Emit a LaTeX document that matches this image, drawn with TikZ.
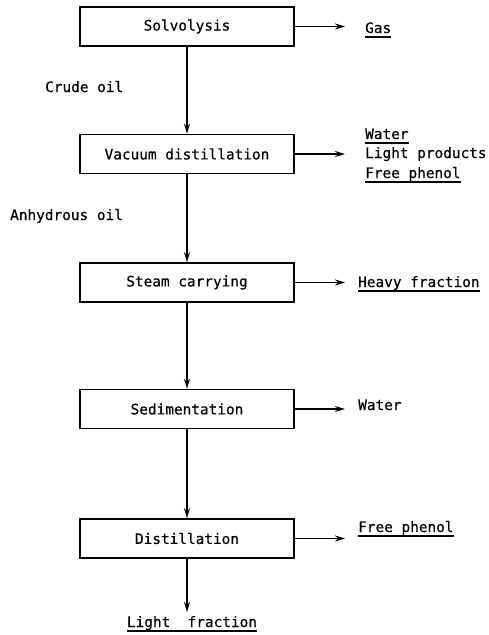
\documentclass[tikz,border=0pt]{standalone}
\usepackage{fontspec}
\setmainfont{DejaVu Sans Mono}[FakeBold=0.4]
\usetikzlibrary{arrows.meta}
\begin{document}
\begin{tikzpicture}[x=1pt,y=-1pt,
  procbox/.style={draw,line width=1.6pt,minimum width=214pt,minimum height=39pt,
    inner sep=0pt,font=\fontsize{14.4}{16}\selectfont},
  flow/.style={line width=1.6pt,-{Stealth[length=10pt,width=6pt]}},
  lbl/.style={inner sep=0pt,anchor=base west,font=\fontsize{14.4}{16}\selectfont},
  uline/.style={line width=1.3pt}]
\useasboundingbox (0,0) rectangle (488,635);

% process steps
\node[procbox] (solv) at (187,26.5) {Solvolysis};
\node[procbox] (vac)  at (187,154)  {Vacuum distillation};
\node[procbox] (steam) at (187,282.5) {Steam carrying};
\node[procbox] (sed)  at (187,409)  {Sedimentation};
\node[procbox] (dist) at (187,538.5) {Distillation};

% main line
\draw[flow] (solv.south) -- (vac.north);
\draw[flow] (vac.south) -- (steam.north);
\draw[flow] (steam.south) -- (sed.north);
\draw[flow] (sed.south) -- (dist.north);
\coordinate (lfend) at (187,612);
\draw[flow] (dist.south) -- (lfend);

% stream labels on the main line
\node[lbl] (crude) at (45,92) {Crude oil};
\node[lbl] (anhyd) at (10,220) {Anhydrous oil};

% side streams
\coordinate (o1) at (345,26.5);
\coordinate (o2) at (345,154);
\coordinate (o3) at (345,282.5);
\coordinate (o4) at (345,409);
\coordinate (o5) at (345,538.5);
\draw[flow] (solv.east) -- (o1);
\draw[flow] (vac.east) -- (o2);
\draw[flow] (steam.east) -- (o3);
\draw[flow] (sed.east) -- (o4);
\draw[flow] (dist.east) -- (o5);

% products
\node[lbl] (gas) at (365,33) {Gas};
\node[lbl] (water1) at (365,139) {Water};
\node[lbl] (light) at (365,158) {Light products};
\node[lbl] (phen1) at (365,178) {Free phenol};
\node[lbl] (heavy) at (358,287) {Heavy fraction};
\node[lbl] (water2) at (358,410) {Water};
\node[lbl] (phen2) at (358,532) {Free phenol};
\node[lbl,anchor=base] (lfrac) at (192,627) {Light\ \ fraction};

% underlines
\foreach \n in {gas,water1,phen1,heavy,phen2,lfrac}
  \draw[uline] ([yshift=-4pt]\n.base west) -- ([yshift=-4pt]\n.base east);
\end{tikzpicture}
\end{document}
